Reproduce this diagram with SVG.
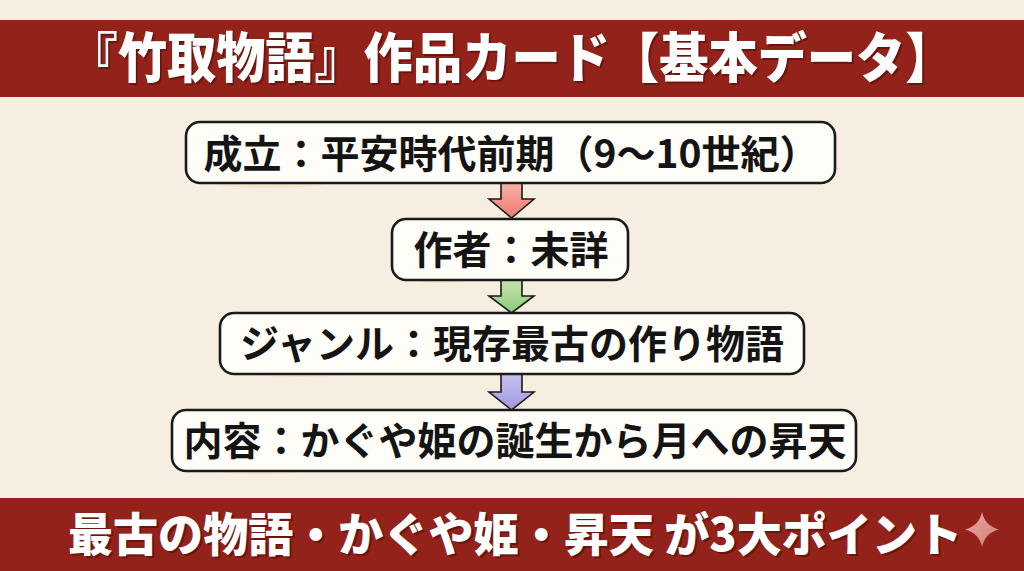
<svg xmlns="http://www.w3.org/2000/svg" width="1024" height="571" viewBox="0 0 1024 571">
  <defs>
    <style>
      .banner { fill: #93231A; }
      .btitle { font-family: "Noto Sans CJK JP", "Noto Sans", sans-serif; font-weight: 900; fill: #ffffff; text-anchor: middle; }
      .bshadow { font-family: "Noto Sans CJK JP", "Noto Sans", sans-serif; font-weight: 900; fill: #4a0a06; opacity: 0.55; text-anchor: middle; }
      .box { fill: #FFFDF8; stroke: #1a1a1a; stroke-width: 2.6; }
      .wash { fill: #F6D9AE; opacity: 0.45; }
      .label { font-family: "Noto Sans CJK JP", "Noto Sans", sans-serif; font-weight: 700; font-size: 39px; fill: #141414; text-anchor: middle; }
      .arrow { stroke: #1a1a1a; stroke-width: 1.6; stroke-linejoin: miter; }
    </style>
    <linearGradient id="gRed" x1="0" y1="0" x2="0" y2="1">
      <stop offset="0" stop-color="#F7B2A8"/>
      <stop offset="1" stop-color="#EE786E"/>
    </linearGradient>
    <linearGradient id="gGreen" x1="0" y1="0" x2="0" y2="1">
      <stop offset="0" stop-color="#C4E3AE"/>
      <stop offset="1" stop-color="#8FCB78"/>
    </linearGradient>
    <linearGradient id="gPurple" x1="0" y1="0" x2="0" y2="1">
      <stop offset="0" stop-color="#C6C0F0"/>
      <stop offset="1" stop-color="#A197E0"/>
    </linearGradient>
    <linearGradient id="gSpark" x1="0" y1="0" x2="1" y2="1">
      <stop offset="0" stop-color="#E7A7A0"/>
      <stop offset="1" stop-color="#CF8079"/>
    </linearGradient>
  </defs>

  <rect x="0" y="0" width="1024" height="571" fill="#F5EEE1"/>

  <g id="title">
    <rect class="banner" x="0" y="20" width="1024" height="77"/>
    <g transform="translate(511.5 0) scale(0.912 1)">
      <text class="bshadow" x="2" y="80" font-size="54">『竹取物語』作品カード【基本データ】</text>
      <text class="btitle" x="0" y="78" font-size="54">『竹取物語』作品カード【基本データ】</text>
    </g>
  </g>

  <g id="connectors">
    <path class="arrow" fill="url(#gRed)" d="M501,183 L522,183 L522,199 L534,199 L511.5,218 L489,199 L501,199 Z"/>
    <path class="arrow" fill="url(#gGreen)" d="M501,280 L522,280 L522,296 L534,296 L511.5,313 L489,296 L501,296 Z"/>
    <path class="arrow" fill="url(#gPurple)" d="M501,374 L522,374 L522,392 L534,392 L511.5,410 L489,392 L501,392 Z"/>
  </g>

  <g id="node-seiritsu">
    <ellipse class="wash" cx="270" cy="176" rx="80" ry="12"/>
    <rect class="box" x="186" y="122" width="649" height="61" rx="14"/>
    <text class="label" x="511" y="168">成立：平安時代前期（9〜10世紀）</text>
  </g>

  <g id="node-sakusha">
    <ellipse class="wash" cx="440" cy="273" rx="40" ry="10"/>
    <rect class="box" x="392" y="219" width="236" height="61" rx="14"/>
    <text class="label" x="511" y="264">作者：未詳</text>
  </g>

  <g id="node-genre">
    <ellipse class="wash" cx="300" cy="367" rx="80" ry="10"/>
    <rect class="box" x="220" y="313" width="584" height="61" rx="14"/>
    <text class="label" x="512" y="358">ジャンル：現存最古の作り物語</text>
  </g>

  <g id="node-naiyou">
    <ellipse class="wash" cx="260" cy="464" rx="80" ry="10"/>
    <rect class="box" x="172" y="410" width="684" height="61" rx="14"/>
    <text class="label" x="515" y="455">内容：かぐや姫の誕生から月への昇天</text>
  </g>

  <g id="footer">
    <rect class="banner" x="0" y="498" width="1024" height="73"/>
    <g transform="translate(515 0) scale(0.98 1)">
      <text class="bshadow" x="2" y="553" font-size="46">最古の物語・かぐや姫・昇天 が3大ポイント</text>
      <text class="btitle" x="0" y="551" font-size="46">最古の物語・かぐや姫・昇天 が3大ポイント</text>
    </g>
    <path fill="url(#gSpark)" d="M982,512 Q985,526 999,529.5 Q985,533 982,547 Q979,533 965,529.5 Q979,526 982,512 Z"/>
  </g>
</svg>
